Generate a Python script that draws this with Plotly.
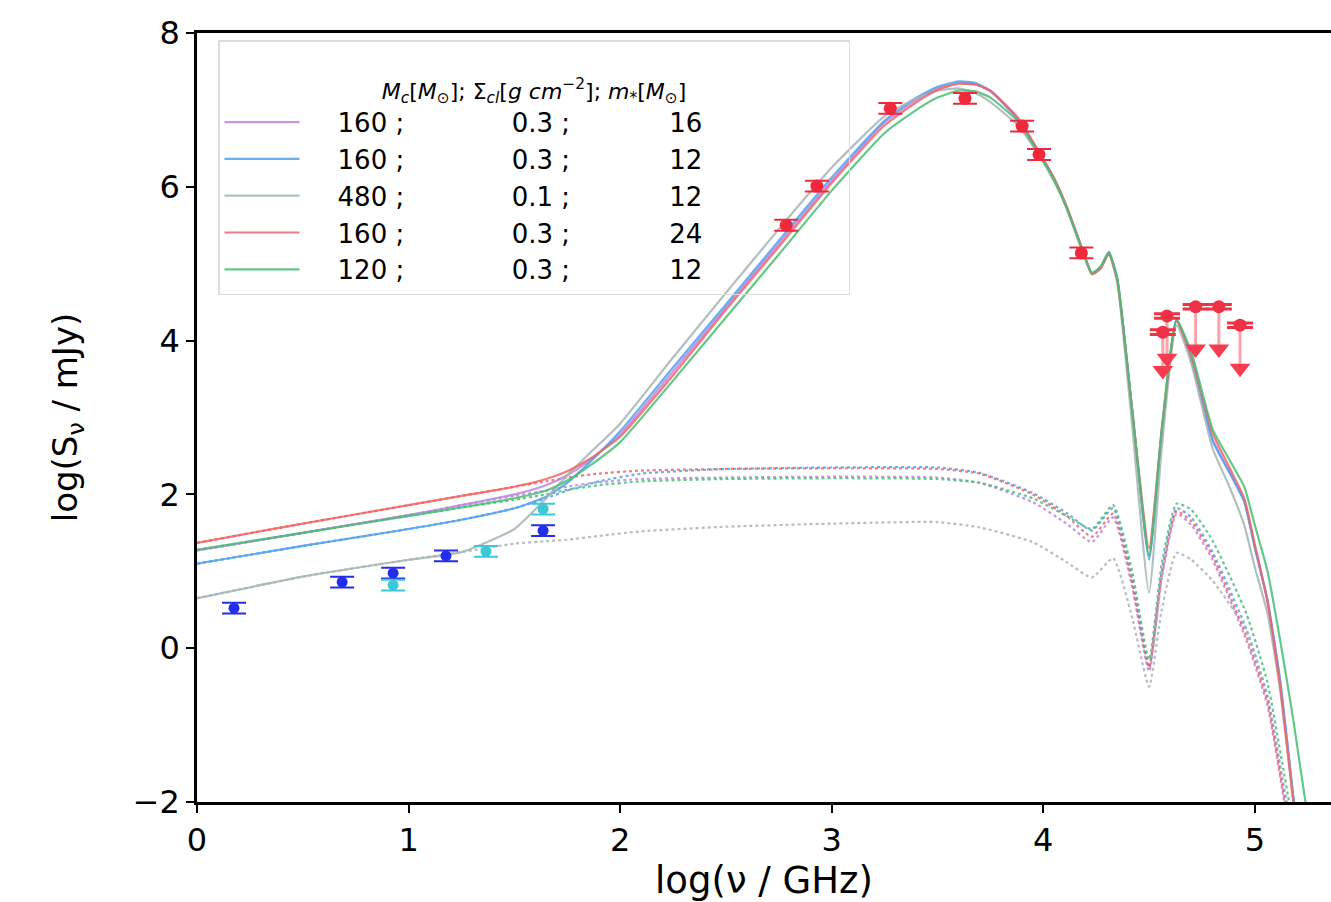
import plotly.graph_objects as go

# ---------------- data ----------------
# solid model curves (total SED)
x_solid = [0, 0.5, 1.0, 1.25, 1.5, 1.65, 1.75, 1.85, 2.0, 2.25, 2.5, 2.75, 3.0, 3.25, 3.4, 3.5, 3.6, 3.68,
           3.75, 3.88, 3.97, 4.05, 4.11, 4.19, 4.23, 4.27, 4.31, 4.35, 4.42, 4.5, 4.56, 4.63,
           4.7, 4.8, 4.88, 4.95, 5.0, 5.06, 5.12, 5.18, 5.25]
purple_solid = [1.27, 1.50, 1.73, 1.86, 2.00, 2.12, 2.25, 2.43, 2.78, 3.60, 4.43, 5.26, 6.08, 6.84, 7.13, 7.28, 7.35, 7.33,
                7.24, 6.88, 6.49, 6.11, 5.74, 5.14, 4.87, 4.94, 5.14, 4.79, 3.10, 1.20, 2.80, 4.27,
                3.76, 2.72, 2.30, 1.92, 1.32, 0.62, -0.45, -1.90, -3.5]
blue_solid = [1.10, 1.33, 1.55, 1.67, 1.82, 1.97, 2.15, 2.40, 2.82, 3.65, 4.47, 5.30, 6.12, 6.86, 7.16, 7.30, 7.37, 7.35,
              7.25, 6.88, 6.48, 6.10, 5.73, 5.14, 4.88, 4.95, 5.15, 4.80, 3.10, 1.15, 2.80, 4.28,
              3.75, 2.70, 2.28, 1.90, 1.30, 0.62, -0.42, -1.88, -3.5]
gray_solid = [0.65, 0.93, 1.15, 1.25, 1.55, 1.95, 2.25, 2.52, 2.92, 3.78, 4.62, 5.45, 6.25, 6.92, 7.15, 7.25, 7.28, 7.22,
              7.10, 6.80, 6.45, 6.08, 5.72, 5.12, 4.87, 4.95, 5.12, 4.75, 2.90, 0.72, 2.60, 4.20,
              3.70, 2.60, 2.10, 1.60, 1.05, 0.45, -0.55, -1.95, -3.5]
red_solid = [1.37, 1.62, 1.86, 1.98, 2.10, 2.20, 2.30, 2.45, 2.75, 3.55, 4.40, 5.22, 6.05, 6.80, 7.10, 7.26, 7.34, 7.33,
             7.25, 6.90, 6.50, 6.12, 5.75, 5.15, 4.86, 4.93, 5.13, 4.78, 3.10, 1.30, 2.85, 4.25,
             3.80, 2.80, 2.35, 1.95, 1.35, 0.60, -0.50, -1.95, -3.5]
green_solid = [1.28, 1.50, 1.72, 1.83, 1.95, 2.05, 2.18, 2.36, 2.68, 3.48, 4.30, 5.12, 5.95, 6.70, 7.00, 7.16, 7.25, 7.24,
               7.16, 6.85, 6.47, 6.09, 5.73, 5.14, 4.88, 4.96, 5.15, 4.80, 3.10, 1.20, 2.85, 4.27,
               3.85, 2.85, 2.45, 2.10, 1.60, 1.00, 0.10, -0.90, -2.20]

# dotted model curves
x_dot = [0, 0.5, 1.0, 1.25, 1.5, 1.65, 1.75, 1.9, 2.1, 2.5, 3.0, 3.5, 3.7, 3.95, 4.11, 4.23,
         4.33, 4.42, 4.5, 4.56, 4.63, 4.7, 4.8, 4.96, 5.06, 5.13, 5.2]
purple_dot = [1.27, 1.50, 1.73, 1.86, 1.98, 2.05, 2.10, 2.16, 2.20, 2.22, 2.23, 2.22, 2.15, 1.90, 1.62, 1.38,
              1.70, 0.80, -0.30, 0.90, 1.75, 1.60, 1.15, 0.10, -0.75, -1.85, -3.0]
blue_dot = [1.10, 1.33, 1.55, 1.67, 1.82, 1.95, 2.05, 2.17, 2.27, 2.33, 2.35, 2.35, 2.28, 2.02, 1.76, 1.53,
            1.82, 0.90, -0.25, 1.00, 1.82, 1.70, 1.25, 0.25, -0.62, -1.70, -2.8]
gray_dot = [0.65, 0.93, 1.15, 1.25, 1.36, 1.39, 1.41, 1.46, 1.52, 1.58, 1.62, 1.64, 1.57, 1.38, 1.12, 0.92,
            1.17, 0.40, -0.50, 0.50, 1.24, 1.15, 0.88, 0.23, -0.64, -1.70, -2.8]
red_dot = [1.37, 1.62, 1.86, 1.98, 2.10, 2.17, 2.22, 2.27, 2.31, 2.33, 2.34, 2.33, 2.27, 2.00, 1.72, 1.45,
           1.75, 0.85, -0.25, 0.95, 1.78, 1.65, 1.20, 0.15, -0.70, -1.80, -2.9]
green_dot = [1.28, 1.50, 1.72, 1.83, 1.93, 2.00, 2.06, 2.12, 2.17, 2.20, 2.21, 2.20, 2.15, 1.95, 1.72, 1.55,
             1.86, 1.00, -0.15, 1.10, 1.88, 1.80, 1.40, 0.45, -0.45, -1.50, -2.6]

# legend table columns: M_c ; Sigma_cl ; m_*
leg_mc = ["160", "160", "480", "160", "120"]
leg_sigma = ["0.3", "0.3", "0.1", "0.3", "0.3"]
leg_mstar = ["16", "12", "12", "24", "12"]

# observations
blue_obs_x = [0.175, 0.686, 0.927, 1.177, 1.636]
blue_obs_y = [0.52, 0.86, 0.975, 1.20, 1.53]
cyan_obs_x = [0.927, 1.366, 1.636]
cyan_obs_y = [0.82, 1.26, 1.81]
red_obs_x = [2.785, 2.93, 3.277, 3.63, 3.90, 3.98, 4.18]
red_obs_y = [5.50, 6.01, 7.02, 7.15, 6.79, 6.42, 5.14]
obs_err = 0.07
ul_x = [4.585, 4.565, 4.72, 4.83, 4.93]
ul_y = [4.32, 4.11, 4.44, 4.44, 4.20]
ul_len = [0.55, 0.50, 0.55, 0.55, 0.56]

# ---------------- figure ----------------
NB = "\u00a0"
def leg_label(a, b, c):
    return NB * 4 + a + " ;" + NB * 13 + b + " ;" + NB * 12 + c + NB * 17

colors = ["rgba(190,130,225,0.85)", "rgba(80,160,240,0.85)", "rgba(165,180,180,0.85)",
          "rgba(240,100,100,0.85)", "rgba(70,190,115,0.85)"]
solids = [purple_solid, blue_solid, gray_solid, red_solid, green_solid]
dots = [purple_dot, blue_dot, gray_dot, red_dot, green_dot]

fig = go.Figure()
for ys, c in zip(dots, colors):
    fig.add_trace(go.Scatter(x=x_dot, y=ys, mode="lines", showlegend=False,
                             line=dict(color=c, width=2.2, dash="dot", shape="spline", smoothing=0.5),
                             hoverinfo="skip"))
for ys, c, a, b, cc in zip(solids, colors, leg_mc, leg_sigma, leg_mstar):
    fig.add_trace(go.Scatter(x=x_solid, y=ys, mode="lines", name=leg_label(a, b, cc),
                             line=dict(color=c, width=2.2, shape="spline", smoothing=0.5)))

def obs_trace(xs, ys, col, size):
    return go.Scatter(x=xs, y=ys, mode="markers", showlegend=False,
                      marker=dict(color=col, size=size, symbol="circle"),
                      error_y=dict(type="constant", value=obs_err, color=col, thickness=2, width=12))

fig.add_trace(obs_trace(blue_obs_x, blue_obs_y, "rgb(35,45,235)", 11))
fig.add_trace(obs_trace(cyan_obs_x, cyan_obs_y, "rgb(60,200,215)", 11))
fig.add_trace(obs_trace(red_obs_x, red_obs_y, "rgb(240,40,60)", 13))

# upper limits: vertical line + arrowhead, built from the data arrays
seg_x, seg_y, tip_x, tip_y = [], [], [], []
for xv, yv, ln in zip(ul_x, ul_y, ul_len):
    seg_x += [xv, xv, None]
    seg_y += [yv, yv - ln, None]
    tip_x.append(xv)
    tip_y.append(yv - ln)
fig.add_trace(go.Scatter(x=seg_x, y=seg_y, mode="lines", showlegend=False,
                         line=dict(color="rgba(250,140,150,0.8)", width=3), hoverinfo="skip"))
fig.add_trace(go.Scatter(x=ul_x, y=ul_y, mode="markers", showlegend=False,
                         marker=dict(color="rgb(240,50,70)", size=13, symbol="circle"),
                         error_y=dict(type="constant", value=0.03, color="rgb(240,50,70)", thickness=3, width=13)))
fig.add_trace(go.Scatter(x=tip_x, y=tip_y, mode="markers", showlegend=False,
                         marker=dict(color="rgb(245,60,80)", size=18, symbol="triangle-down")))

legend_title = ("<br><i>M<sub>c</sub></i>[<i>M</i><sub>⊙</sub>]; Σ<sub><i>cl</i></sub>[<i>g cm</i><sup>−2</sup>]; "
                "<i>m</i><sub>*</sub>[<i>M</i><sub>⊙</sub>]")

fig.update_layout(
    width=1331, height=902,
    margin=dict(l=197, r=0, t=33, b=100),
    paper_bgcolor="white", plot_bgcolor="white",
    font=dict(family="DejaVu Sans", color="black"),
    showlegend=True,
    legend=dict(
        x=(218 - 197) / 1134, y=1 - 7 / 769, xanchor="left", yanchor="top",
        bgcolor="rgba(255,255,255,0)", bordercolor="rgb(220,220,220)", borderwidth=1.5,
        font=dict(size=26, family="DejaVu Sans", color="black"),
        title=dict(text=legend_title, side="top center", font=dict(size=22, family="DejaVu Sans")),
        itemwidth=75, tracegroupgap=0,
    ),
    xaxis=dict(
        range=[0, 5.36], tickvals=[0, 1, 2, 3, 4, 5], ticktext=["0", "1", "2", "3", "4", "5"],
        showgrid=False, zeroline=False, showline=True, linecolor="black", linewidth=2.5,
        mirror=True, ticks="outside", ticklen=8, tickwidth=2, tickcolor="black",
        tickfont=dict(size=32, family="DejaVu Sans"),
        title=dict(text="log(ν / GHz)", font=dict(size=37, family="DejaVu Sans"), standoff=4),
    ),
    yaxis=dict(
        range=[-2, 8], tickvals=[-2, 0, 2, 4, 6, 8], ticktext=["\u22122", "0", "2", "4", "6", "8"],
        showgrid=False, zeroline=False, showline=True, linecolor="black", linewidth=2.5,
        mirror=False, ticks="outside", ticklen=8, tickwidth=2, tickcolor="black",
        tickfont=dict(size=32, family="DejaVu Sans"),
        title=dict(text="log(S<sub>ν</sub> / mJy)", font=dict(size=34, family="DejaVu Sans"), standoff=45),
    ),
)

fig.write_html("out.html")
